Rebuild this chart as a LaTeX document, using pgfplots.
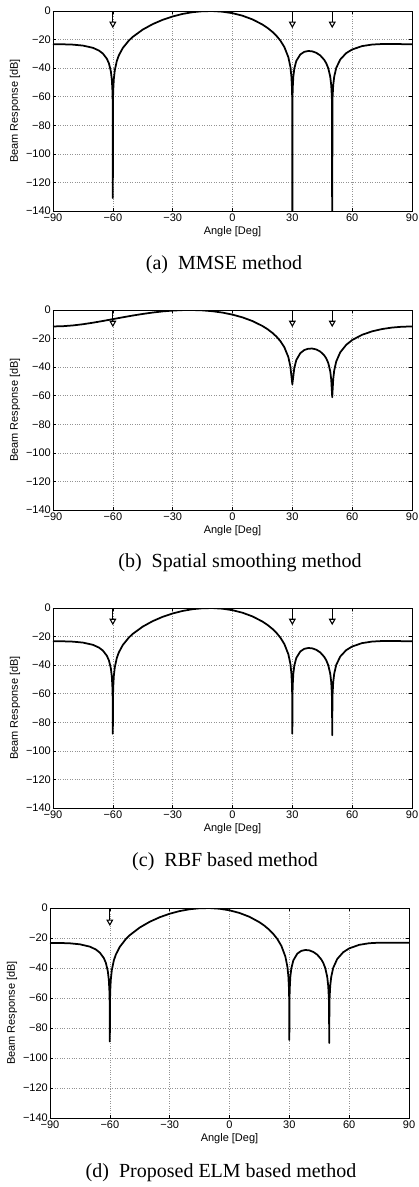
\documentclass[border=0pt]{standalone}
\usepackage{fontspec}
\setmainfont{Liberation Sans}
\newfontfamily\capfont{Liberation Serif}
\usepackage{pgfplots}
\pgfplotsset{compat=1.18}
\usepackage{pgfplotstable}
\usetikzlibrary{arrows.meta}

% columns: angle, MMSE (a), RBF (c), ELM (d)
\pgfplotstableread{
x      a       c       d
-90    -23.24  -23.24  -23.24
-85    -23.30  -23.30  -23.30
-80    -23.54  -23.54  -23.54
-75    -24.20  -24.20  -24.20
-70    -25.76  -25.76  -25.76
-67    -27.66  -27.66  -27.66
-65    -29.77  -29.77  -29.77
-63    -33.40  -33.40  -33.40
-62    -36.52  -36.52  -36.52
-61    -42.17  -42.17  -42.17
-60.5  -47.99  -47.99  -47.99
-60.2  -55.76  -55.76  -55.76
-60.1  -61.78  -61.78  -61.78
-60    -131    -88     -89
-59.9  -61.40  -61.40  -61.40
-59.8  -55.40  -55.40  -55.40
-59.5  -47.59  -47.59  -47.59
-59    -41.38  -41.38  -41.38
-58    -34.97  -34.97  -34.97
-57    -31.07  -31.07  -31.07
-55    -25.89  -25.89  -25.89
-52    -20.73  -20.73  -20.73
-50    -18.10  -18.10  -18.10
-45    -13.01  -13.01  -13.01
-40    -9.17   -9.17   -9.17
-35    -6.16   -6.16   -6.16
-30    -3.81   -3.81   -3.81
-25    -2.04   -2.04   -2.04
-20    -0.83   -0.83   -0.83
-15    -0.15   -0.15   -0.15
-10    -0.03   -0.03   -0.03
-5     -0.48   -0.48   -0.48
0      -1.54   -1.54   -1.54
5      -3.29   -3.29   -3.29
10     -5.86   -5.86   -5.86
15     -9.46   -9.46   -9.46
17.5   -11.78  -11.78  -11.78
20     -14.59  -14.59  -14.59
22     -17.32  -17.32  -17.32
24     -20.71  -20.71  -20.71
26     -25.22  -25.22  -25.22
28     -32.34  -32.34  -32.34
29     -38.96  -38.96  -38.96
29.5   -45.28  -45.28  -45.28
29.8   -53.30  -53.30  -53.30
29.9   -59.30  -59.30  -59.30
30     -200    -88     -88
30.1   -59.90  -59.90  -59.90
30.2   -53.90  -53.90  -53.90
30.5   -45.92  -45.92  -45.92
31     -40.24  -40.24  -40.24
32     -34.91  -34.91  -34.91
34     -30.40  -30.40  -30.40
36     -28.57  -28.57  -28.57
38     -27.98  -27.98  -27.98
40     -28.24  -28.24  -28.24
42     -29.26  -29.26  -29.26
44     -31.11  -31.11  -31.11
46     -34.21  -34.21  -34.21
47     -36.56  -36.56  -36.56
48     -39.98  -39.98  -39.98
49     -45.94  -45.94  -45.94
49.5   -51.95  -51.95  -51.95
49.8   -59.90  -59.90  -59.90
49.9   -65.90  -65.90  -65.90
50     -200    -89     -90
50.1   -65.90  -65.90  -65.90
50.2   -59.90  -59.90  -59.90
50.5   -51.91  -51.91  -51.91
51     -45.89  -45.89  -45.89
52     -39.89  -39.89  -39.89
54     -34.00  -34.00  -34.00
57     -29.49  -29.49  -29.49
60     -26.92  -26.92  -26.92
65     -24.56  -24.56  -24.56
70     -23.48  -23.48  -23.48
75     -23.11  -23.11  -23.11
80     -23.10  -23.10  -23.10
85     -23.19  -23.19  -23.19
90     -23.24  -23.24  -23.24
}\famdata

% spatial smoothing (b)
\pgfplotstableread{
x      b
-90    -11.52
-85    -11.33
-80    -10.79
-75    -9.96
-70    -8.89
-65    -7.68
-60    -6.39
-55    -5.10
-50    -3.87
-45    -2.75
-40    -1.77
-35    -0.97
-30    -0.40
-25    -0.07
-20    -0.01
-15    -0.26
-10    -0.85
-5     -1.82
0      -3.23
5      -5.15
10     -7.72
15     -11.17
17.5   -13.35
20     -15.99
22     -18.56
24     -21.77
26     -26.07
28     -32.95
29     -39.45
29.5   -45.71
30     -52
30.5   -46.21
31     -40.46
32     -35.00
34     -30.18
36     -28.02
38     -27.09
40     -26.99
42     -27.62
44     -29.07
46     -31.75
47     -33.88
48     -37.07
49     -42.80
49.5   -48.69
50     -61
50.5   -48.42
51     -42.28
52     -36.05
54     -29.66
57     -24.39
60     -21.02
65     -17.33
70     -14.93
75     -13.32
80     -12.29
85     -11.71
90     -11.52
}\ssdata

\pgfplotsset{
  beam/.style={
    scale only axis, width=359pt, height=200pt,
    anchor=south west,
    xmin=-90, xmax=90, ymin=-140, ymax=0,
    xtick={-90,-60,-30,0,30,60,90},
    xticklabels={−90,−60,−30,0,30,60,90},
    ytick={-140,-120,-100,-80,-60,-40,-20,0},
    yticklabels={−140,−120,−100,−80,−60,−40,−20,0},
    grid=major,
    major grid style={dotted, gray!85, line width=0.6pt},
    axis line style={black, line width=0.9pt},
    tick style={black, line width=0.6pt},
    major tick length=3pt,
    tick align=inside,
    font=\fontsize{11}{13}\selectfont,
    xticklabel style={inner sep=3pt},
    yticklabel style={inner sep=2pt},
    xlabel={Angle [Deg]},
    ylabel={Beam Response [dB]},
    xlabel style={at={(axis description cs:0.5,0)}, anchor=north, yshift=-15.5pt, inner sep=0pt},
    ylabel style={at={(axis description cs:-0.1058,0.5)}, anchor=center, inner sep=0pt},
  },
  curve/.style={black, line width=1.75pt, no markers, line join=round},
  arr/.style={black, no markers,
    quiver={u=0, v=-12,
      every arrow/.append style={black, line width=1.3pt,
        -{Triangle[length=6.5pt, width=7pt, fill=white, line width=1.1pt]}}}},
}

\begin{document}
\begin{tikzpicture}
\useasboundingbox (0,0) rectangle (418pt,-1187pt);

% (a)
\begin{axis}[beam, at={(53pt,-211pt)}]
  \addplot[curve] table[x=x, y=a] {\famdata};
  \addplot[arr] coordinates {(-60,0) (30,0) (50,0)};
\end{axis}
\node[font=\capfont\fontsize{20}{24}\selectfont] at (224pt,-265pt) {(a)\enspace MMSE method};

% (b)
\begin{axis}[beam, at={(53pt,-510pt)}]
  \addplot[curve] table[x=x, y=b] {\ssdata};
  \addplot[arr] coordinates {(-60,0) (30,0) (50,0)};
\end{axis}
\node[font=\capfont\fontsize{20}{24}\selectfont] at (240pt,-563pt) {(b)\enspace Spatial smoothing method};

% (c)
\begin{axis}[beam, at={(53pt,-808pt)}]
  \addplot[curve] table[x=x, y=c] {\famdata};
  \addplot[arr] coordinates {(-60,0) (30,0) (50,0)};
\end{axis}
\node[font=\capfont\fontsize{20}{24}\selectfont] at (225pt,-862pt) {(c)\enspace RBF based method};

% (d)
\begin{axis}[beam, height=210pt, at={(50pt,-1118pt)}]
  \addplot[curve] table[x=x, y=d] {\famdata};
  \addplot[arr] coordinates {(-60,0)};
\end{axis}
\node[font=\capfont\fontsize{20}{24}\selectfont] at (221pt,-1173pt) {(d)\enspace Proposed ELM based method};

\end{tikzpicture}
\end{document}
